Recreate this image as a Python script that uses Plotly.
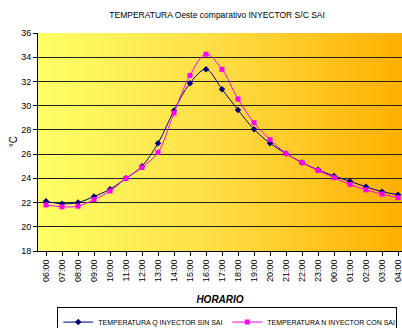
import plotly.graph_objects as go

horas = ['06:00', '07:00', '08:00', '09:00', '10:00', '11:00', '12:00', '13:00',
         '14:00', '15:00', '16:00', '17:00', '18:00', '19:00', '20:00', '21:00',
         '22:00', '23:00', '00:00', '01:00', '02:00', '03:00', '04:00']

temp_sin_sai = [22.1, 21.9, 22.0, 22.5, 23.1, 24.0, 25.0, 26.9, 29.6, 31.85, 33.0, 31.35,
                29.65, 28.05, 26.9, 26.05, 25.3, 24.7, 24.2, 23.75, 23.3, 22.9, 22.65]
temp_con_sai = [21.8, 21.65, 21.7, 22.25, 22.95, 24.0, 24.9, 26.15, 29.4, 32.5, 34.25, 33.0,
                30.55, 28.6, 27.2, 26.05, 25.3, 24.65, 24.05, 23.5, 23.05, 22.7, 22.4]

# degradado del fondo (amarillo -> naranja)
c0 = (255, 255, 102)
c1 = (255, 221, 68)
c2 = (255, 176, 0)
n_strips = 80


def mix(a, b, t):
    return 'rgb(%d,%d,%d)' % tuple(round(a[i] + (b[i] - a[i]) * t) for i in range(3))


shapes = []
for i in range(n_strips):
    t = i / (n_strips - 1)
    col = mix(c0, c1, t * 2) if t < 0.5 else mix(c1, c2, (t - 0.5) * 2)
    shapes.append(dict(type='rect', xref='paper', yref='paper',
                       x0=i / n_strips, x1=(i + 1) / n_strips + 0.002,
                       y0=0, y1=1, fillcolor=col, line=dict(width=0),
                       layer='below'))

fig = go.Figure()
fig.add_trace(go.Scatter(
    x=horas, y=temp_sin_sai, name='TEMPERATURA Q INYECTOR SIN SAI',
    mode='lines+markers', line=dict(color='#000080', width=1, shape='spline'),
    marker=dict(symbol='diamond', size=5, color='#000080')))
fig.add_trace(go.Scatter(
    x=horas, y=temp_con_sai, name='TEMPERATURA N INYECTOR CON SAI',
    mode='lines+markers', line=dict(color='#FF00FF', width=1, shape='spline'),
    marker=dict(symbol='square', size=5, color='#FF00FF')))

font = 'Liberation Sans Narrow, Arial Narrow, Liberation Sans, Arial'

fig.update_layout(
    width=402, height=328,
    margin=dict(l=38, r=0, t=33, b=77, autoexpand=False),
    paper_bgcolor='white', plot_bgcolor='rgba(0,0,0,0)',
    font=dict(family=font, size=9, color='black'),
    title=dict(text='TEMPERATURA Oeste comparativo INYECTOR S/C SAI',
               x=0.54, xanchor='center', y=0.954, yanchor='middle',
               font=dict(size=8.5)),
    shapes=shapes,
    showlegend=True,
    legend=dict(orientation='h', x=0.52, xanchor='center', y=-0.255, yanchor='top',
                bordercolor='black', borderwidth=1, bgcolor='white',
                font=dict(size=7), itemwidth=30, tracegroupgap=0,
                entrywidth=124, entrywidthmode='pixels'),
    annotations=[dict(text='°C', xref='paper', yref='paper', x=-0.068, y=0.5,
                      xanchor='center', yanchor='middle',
                      textangle=-90, showarrow=False, font=dict(size=10))],
)
fig.update_xaxes(
    type='category', range=[-0.5, 22.25], tickangle=-90, automargin=False,
    showgrid=False, showline=True, linecolor='black', linewidth=1,
    ticks='outside', ticklen=4, tickcolor='black',
    tickfont=dict(family='Liberation Sans, Arial', size=9),
    title=dict(text='<b><i>HORARIO</i></b>', font=dict(size=10), standoff=14),
)
fig.update_yaxes(
    range=[18, 36], dtick=2, showgrid=True, gridcolor='#222222', gridwidth=1,
    showline=True, linecolor='black', linewidth=1, zeroline=False, automargin=False,
    ticks='outside', ticklen=4, tickcolor='black',
)

fig.write_html('out.html', config={'displayModeBar': False},
               post_script="document.body.style.margin='0';")
